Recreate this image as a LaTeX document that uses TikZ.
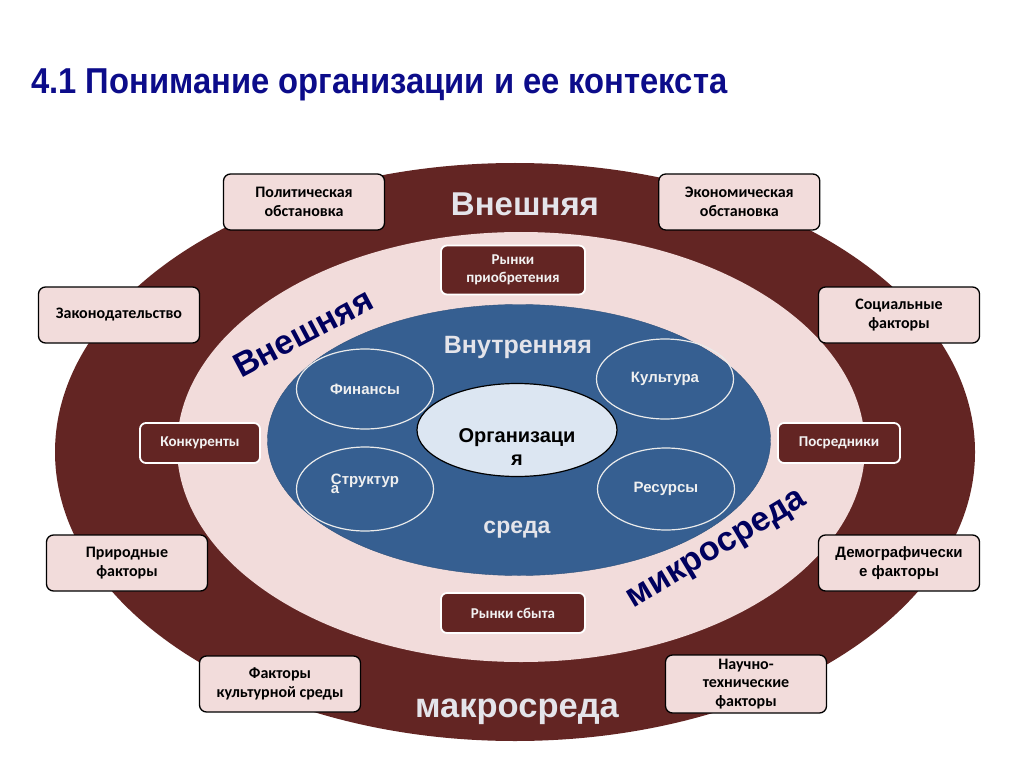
\documentclass[tikz,border=0pt]{standalone}
\usepackage{fontspec}
\setmainfont{Liberation Sans}
\newfontfamily\carlito{Carlito}
\newfontfamily\uzkij[FakeStretch=0.91]{Liberation Sans}
\usetikzlibrary{positioning,shapes.geometric}
\definecolor{bordo}{HTML}{632523}
\definecolor{rozov}{HTML}{F2DCDB}
\definecolor{sinij}{HTML}{365F91}
\definecolor{goluboj}{HTML}{DCE6F2}
\definecolor{zagl}{HTML}{0C0C8A}
\definecolor{nadpis}{HTML}{00005E}
\definecolor{svetl}{HTML}{E4E4EA}
\tikzset{
  faktor/.style={rectangle,rounded corners=7pt,draw=black,line width=1.3pt,fill=rozov,minimum width=161pt,minimum height=56pt,inner sep=2pt,align=center,font=\carlito\bfseries\fontsize{16}{18.5}\selectfont},
  rynok/.style={rectangle,rounded corners=6pt,draw=white,line width=1.8pt,fill=bordo,text=white!95!black,minimum width=144pt,minimum height=40pt,inner sep=2pt,align=center,font=\carlito\bfseries\fontsize{15}{18}\selectfont},
  oblast/.style={ellipse,inner sep=0pt},
  resurs/.style={ellipse,draw=white!92!black,line width=1.2pt,minimum width=137pt,minimum height=80pt,inner sep=0pt,text=white!94!black,align=left,font=\bfseries\fontsize{15}{17}\selectfont},
  sreda/.style={font=\bfseries\fontsize{33}{36}\selectfont,text=svetl},
  sredaR/.style={font=\bfseries\fontsize{34}{36}\selectfont,text=nadpis},
}

\begin{document}
\begin{tikzpicture}[x=1pt,y=-1pt]
  \useasboundingbox[fill=white] (0,0) rectangle (1024,767);
  \node[anchor=base west,inner sep=0pt,text=zagl,font=\uzkij\bfseries\fontsize{36}{40}\selectfont] (zag) at (31,94) {4.1 Понимание организации и ее контекста};
  % kruhy
  \node[oblast,fill=bordo,minimum width=920pt,minimum height=578pt] (makro) at (515,452) {};
  \node[oblast,fill=rozov,minimum width=688pt,minimum height=430pt] (mikro) at (521,447) {};
  \node[oblast,fill=sinij,draw=sinij!85!black,minimum width=503pt,minimum height=271pt] (vnutr) at (519,440) {};
  \node[oblast,draw=black,line width=1.2pt,fill=goluboj,minimum width=200pt,minimum height=93pt] (org) at (517,430) {};
  \node[align=center,font=\bfseries\fontsize{20}{23}\selectfont] (orgtekst) at ([yshift=-17pt]org.center) {Организаци\\я};
  \node[resurs] (fin) at (365,389) {Финансы};
  \node[resurs] (kult) at (665,379) {Культура};
  \node[resurs,minimum height=84pt] (struk) at (365,489) {Структур\\[-8pt]а\rule[-10pt]{0pt}{0pt}};
  \node[resurs,minimum height=82pt] (res) at (666,489) {Ресурсы};
  % nadpisy
  \node[sreda,anchor=base] (vnesh) at (525,215) {Внешняя};
  \node[sreda,anchor=base,font=\bfseries\fontsize{34.5}{36}\selectfont] (makrotxt) at (517,717) {макросреда};
  \node[sreda,anchor=base,font=\bfseries\fontsize{25}{28}\selectfont] (vnutrtxt) at (518,353) {Внутренняя};
  \node[sreda,anchor=base,font=\bfseries\fontsize{23}{26}\selectfont] (sredatxt) at (517,533) {среда};
  \node[sredaR,rotate=28] (vneshR) at (303,333) {Внешняя};
  \node[sredaR,rotate=31] (mikrotxt) at (718,551) {микросреда};
  % mikrosreda
  \node[rynok,minimum height=49pt] (rpri) at (513,270) {Рынки\\приобретения};
  \node[rynok] (rsbyt) at (513,613) {Рынки сбыта};
  \node[rynok,minimum width=120pt] (konk) at (200,443) {Конкуренты};
  \node[rynok,minimum width=122pt] (posr) at (839,443) {Посредники};
  % makrosreda
  \node[faktor] (polit) at (304,202) {Политическая\\обстановка};
  \node[faktor] (ekon) [right=273pt of polit] {Экономическая\\обстановка};
  \node[faktor] (zakon) at (119,315) {Законодательство};
  \node[faktor] (soc) at (899,315) {Социальные\\факторы};
  \node[faktor] (prir) at (127,563) {Природные\\факторы};
  \node[faktor,font=\bfseries\fontsize{15}{19}\selectfont] (demo) at (899,563) {Демографически\\е факторы};
  \node[faktor] (kultf) at (280,684) {Факторы\\культурной среды};
  \node[faktor,minimum height=58pt] (nauch) at (746,684) {Научно-\\технические\\факторы};
\end{tikzpicture}
\end{document}
